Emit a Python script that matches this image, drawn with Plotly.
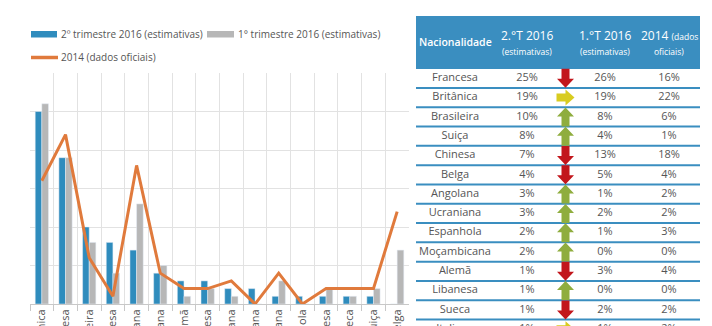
import plotly.graph_objects as go

W, H = 712, 326

# ---------------- chart data ----------------
categories = ["Britânica", "Francesa", "Brasileira", "Chinesa", "Angolana", "Ucraniana",
              "Alemã", "Libanesa", "Italiana", "Moçambicana", "Americana", "Espanhola",
              "Holandesa", "Sueca", "Suiça", "Belga"]
t2_2016 = [25, 19, 10, 8, 7, 4, 3, 3, 2, 2, 1, 1, 1, 1, 1, 0]
t1_2016 = [26, 19, 8, 4, 13, 5, 1, 2, 1, 0, 3, 0, 2, 1, 2, 7]
oficial_2014 = [16, 22, 6, 1, 18, 4, 2, 2, 3, 0, 4, 0, 2, 2, 2, 12]

legend_labels = ["2º trimestre 2016 (estimativas)", "1° trimestre 2016 (estimativas)",
                 "2014 (dados oficiais)"]

# ---------------- table data ----------------
tab_names = ["Francesa", "Britânica", "Brasileira", "Suiça", "Chinesa", "Belga", "Angolana",
             "Ucraniana", "Espanhola", "Moçambicana", "Alemã", "Libanesa", "Sueca", "Italiana"]
tab_t2 = [25, 19, 10, 8, 7, 4, 3, 3, 2, 2, 1, 1, 1, 1]
tab_t1 = [26, 19, 8, 4, 13, 5, 1, 2, 1, 0, 3, 0, 2, 1]
tab_2014 = [16, 22, 6, 1, 18, 4, 2, 2, 3, 0, 4, 0, 2, 2]

BLUE = "#2f8cbd"
GRAY = "#b7b7b7"
ORANGE = "#e07a3c"
HEAD = "#3a8ec0"
TXT = "#555555"
FONT = "Open Sans"

fig = go.Figure()

fig.add_trace(go.Bar(x=categories, y=t2_2016, marker_color=BLUE, name=legend_labels[0],
                     showlegend=False))
fig.add_trace(go.Bar(x=categories, y=t1_2016, marker_color=GRAY, name=legend_labels[1],
                     showlegend=False))
fig.add_trace(go.Scatter(x=categories, y=oficial_2014, mode="lines",
                         line=dict(color=ORANGE, width=3), name=legend_labels[2],
                         showlegend=False))

def px(x):
    return x / W

def py(y):
    return 1 - y / H

shapes = []
annotations = []

# ---------------- custom legend ----------------
shapes.append(dict(type="rect", xref="paper", yref="paper", x0=px(31), x1=px(57),
                   y0=py(31), y1=py(37.5), fillcolor=BLUE, line=dict(width=0)))
shapes.append(dict(type="rect", xref="paper", yref="paper", x0=px(207), x1=px(234),
                   y0=py(31), y1=py(37.5), fillcolor=GRAY, line=dict(width=0)))
shapes.append(dict(type="line", xref="paper", yref="paper", x0=px(31), x1=px(58),
                   y0=py(57.5), y1=py(57.5), line=dict(color=ORANGE, width=3.5)))
for lx, ly, t in [(59, 34, legend_labels[0]), (236, 34, legend_labels[1]), (59, 56.5, legend_labels[2])]:
    annotations.append(dict(x=px(lx), y=py(ly), xref="paper", yref="paper", text=t,
                            showarrow=False, xanchor="left", yanchor="middle",
                            font=dict(family=FONT, size=10, color=TXT)))

# ---------------- table ----------------
ROW0, ROWH = 78.3, 19.3
TL, TR = 416, 700
col_name, col_t2, col_arrow, col_t1, col_14 = 455, 527, 565.5, 605, 669

def rowy(i):
    return ROW0 + ROWH * i

shapes.append(dict(type="rect", xref="x2", yref="y2", x0=TL, x1=TR, y0=16, y1=69,
                   fillcolor=HEAD, line=dict(width=0), layer="below"))
for i in range(len(tab_names)):
    yl = rowy(i) + ROWH / 2
    shapes.append(dict(type="line", xref="x2", yref="y2", x0=TL, x1=TR, y0=yl, y1=yl,
                       line=dict(color=HEAD, width=2)))

def arrow_path(cx, cy, kind):
    if kind == "up":
        pts = [(0, -9.5), (8.5, -0.5), (4, -0.5), (4, 9.5), (-4, 9.5), (-4, -0.5), (-8.5, -0.5)]
    elif kind == "down":
        pts = [(0, 9.5), (8.5, 0.5), (4, 0.5), (4, -9.5), (-4, -9.5), (-4, 0.5), (-8.5, 0.5)]
    else:
        pts = [(9, 0), (0, -8), (0, -4), (-9, -4), (-9, 4), (0, 4), (0, 8)]
    return "M " + " L ".join(f"{cx + a:.2f},{cy + b:.2f}" for a, b in pts) + " Z"

for i, (a, b) in enumerate(zip(tab_t2, tab_t1)):
    if a > b:
        kind, col = "up", "#8fad3e"
    elif a < b:
        kind, col = "down", "#c2161c"
    else:
        kind, col = "right", "#d8cc20"
    shapes.append(dict(type="path", xref="x2", yref="y2", path=arrow_path(col_arrow, rowy(i), kind),
                       fillcolor=col, line=dict(width=0)))

ys = [rowy(i) for i in range(len(tab_names))]
for cx, vals in [(col_name, tab_names), (col_t2, [f"{v}%" for v in tab_t2]),
                 (col_t1, [f"{v}%" for v in tab_t1]), (col_14, [f"{v}%" for v in tab_2014])]:
    fig.add_trace(go.Scatter(x=[cx] * len(vals), y=ys, mode="text", text=vals,
                             textposition="middle center",
                             textfont=dict(family=FONT, size=11, color=TXT),
                             xaxis="x2", yaxis="y2", showlegend=False, hoverinfo="skip"))

hdr = [
    (col_name, 42, "Nacionalidade", 10.5, 600),
    (col_t2, 35, "2.°T 2016", 12, 400),
    (col_t2, 51, "(estimativas)", 8.5, 400),
    (col_t1, 35, "1.°T 2016", 12, 400),
    (col_t1, 51, "(estimativas)", 8.5, 400),
    (col_14, 35, "2014 <span style='font-size:8.5px'>(dados</span>", 12, 400),
    (col_14, 51, "oficiais)", 8.5, 400),
]
for hx, hy, t, s, wgt in hdr:
    annotations.append(dict(x=hx, y=hy, xref="x2", yref="y2", text=t, showarrow=False,
                            xanchor="center", yanchor="middle",
                            font=dict(family=FONT, size=s, color="white", weight=wgt)))

fig.update_layout(
    width=W, height=H, margin=dict(l=0, r=0, t=0, b=0),
    paper_bgcolor="white", plot_bgcolor="rgba(0,0,0,0)",
    barmode="group", bargap=0.44, bargroupgap=0,
    showlegend=False,
    shapes=shapes, annotations=annotations,
    xaxis=dict(domain=[px(30), px(409)], type="category", tickson="boundaries",
               showgrid=True, gridcolor="#e2e2e2", gridwidth=1,
               ticks="outside", ticklen=6, tickcolor="#c8c8c8",
               showline=True, linecolor="#c8c8c8", linewidth=1,
               tickangle=-90, tickfont=dict(family=FONT, size=11, color=TXT),
               automargin=False, fixedrange=True),
    yaxis=dict(domain=[py(304), py(73)], range=[0, 30], dtick=5, showgrid=True,
               gridcolor="#e2e2e2", showticklabels=False, zeroline=False,
               showline=False, automargin=False, fixedrange=True),
    xaxis2=dict(domain=[0, 1], range=[0, W], visible=False, anchor="y2", fixedrange=True),
    yaxis2=dict(domain=[0, 1], range=[H, 0], visible=False, anchor="x2", fixedrange=True),
)

fig.write_html("out.html")
